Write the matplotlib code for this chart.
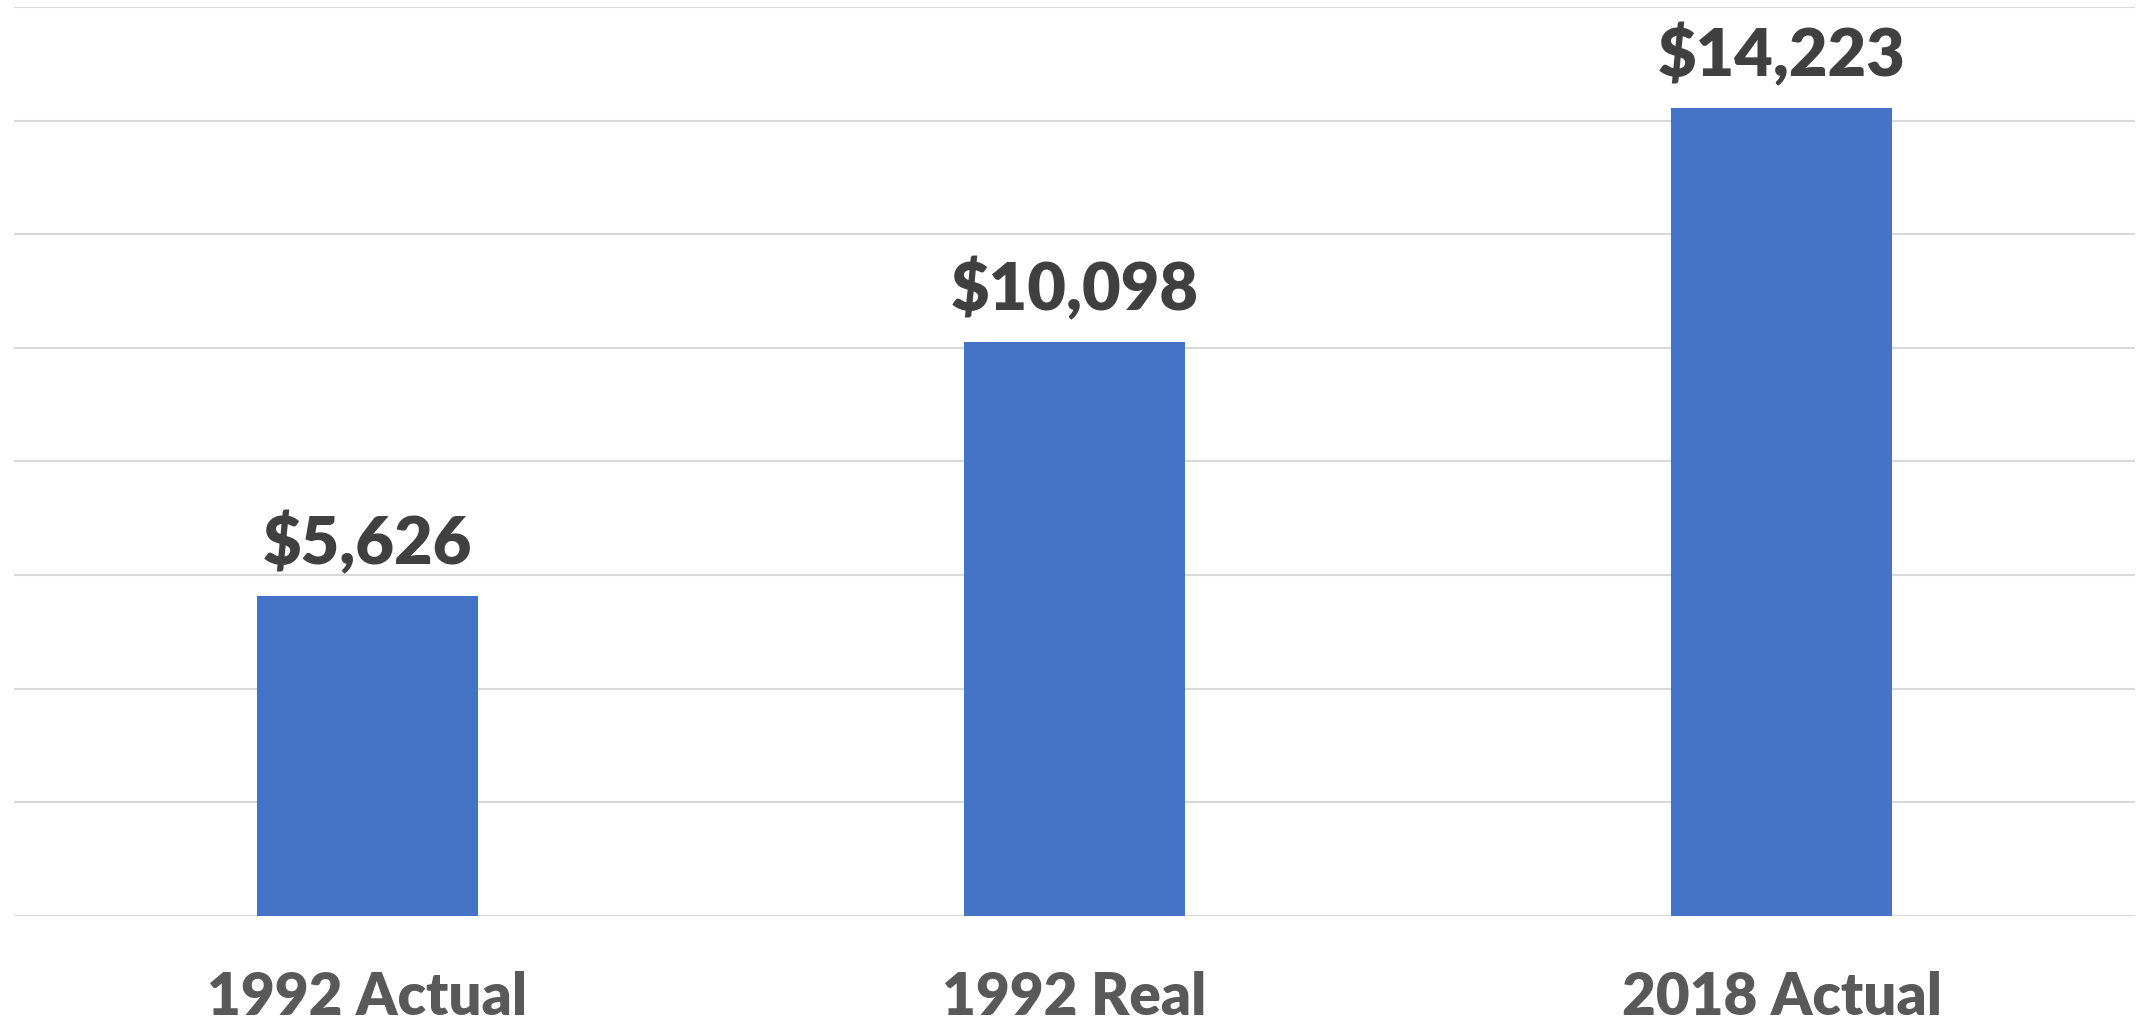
import matplotlib
matplotlib.use("Agg")
import matplotlib.pyplot as plt
from matplotlib.ticker import MultipleLocator

categories = ["1992 Actual", "1992 Real", "2018 Actual"]
values = [5626, 10098, 14223]
labels = ["$5,626", "$10,098", "$14,223"]

fig = plt.figure(figsize=(21.49, 10.22), dpi=100)
ax = fig.add_axes([0.0065, 0.1037, 0.987, 0.8895])
x = list(range(len(categories)))
ax.bar(x, values, width=0.3125, color="#4472C4", zorder=3)
ax.set_xlim(-0.5, 2.5)
ax.set_ylim(0, 16000)
ax.yaxis.set_major_locator(MultipleLocator(2000))
ax.grid(axis="y", color="#D9D9D9", linewidth=1.5, zorder=0)
ax.set_axisbelow(True)
for s in ax.spines.values():
    s.set_visible(False)
ax.tick_params(axis="y", left=False, labelleft=False)
ax.tick_params(axis="x", bottom=False, pad=36)
ax.set_xticks(x)
ax.set_xticklabels(categories, fontsize=42, fontweight="heavy", color="#595959", family="Lato")
for xi, v, lab in zip(x, values, labels):
    ax.annotate(lab, (xi, v), xytext=(0, 15), textcoords="offset points",
                ha="center", va="bottom", fontsize=48, fontweight="heavy",
                color="#404040", family="Lato")
fig.savefig("out.png", dpi=100)
